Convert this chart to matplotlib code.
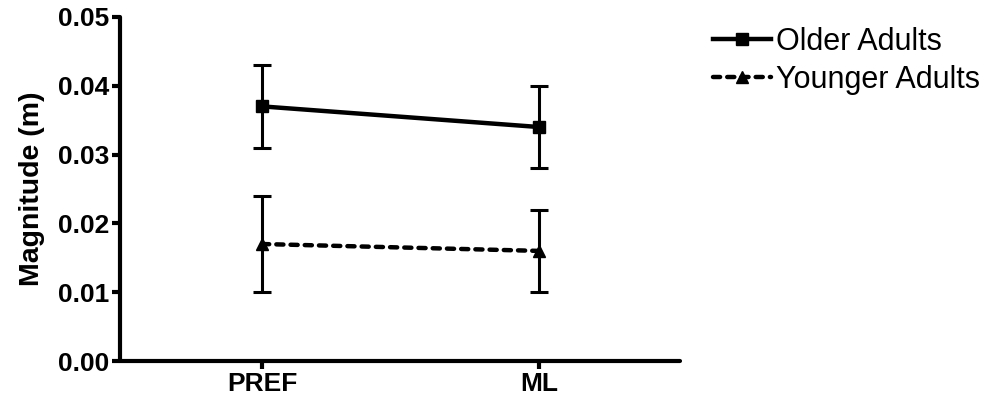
import matplotlib
matplotlib.use("Agg")
import matplotlib.pyplot as plt
from matplotlib.lines import Line2D

plt.rcParams['font.family'] = ['Liberation Sans', 'DejaVu Sans']

categories = ["PREF", "ML"]
older_mean = [0.037, 0.034]
older_err = [0.006, 0.006]
younger_mean = [0.017, 0.016]
younger_err = [0.007, 0.006]
yticks = [0.00, 0.01, 0.02, 0.03, 0.04, 0.05]

fig = plt.figure(figsize=(9.87, 4.03), dpi=100)
ax = fig.add_axes([0.1216, 0.1042, 0.5674, 0.8538])

x = list(range(len(categories)))
dash = (0, (1.6, 1.6))

ax.errorbar(x, older_mean, yerr=older_err, color='black', lw=3.2,
            marker='s', markersize=9, elinewidth=2.2, capsize=6.5, capthick=2.2)
ax.errorbar(x, younger_mean, yerr=younger_err, color='black', lw=3.2,
            ls=dash, dash_capstyle='round',
            marker='^', markersize=9, elinewidth=2.2, capsize=6.5, capthick=2.2)

ax.set_xlim(-0.513, 1.509)
ax.set_ylim(0, 0.05)
ax.set_xticks(x)
ax.set_xticklabels(categories, fontsize=19, fontweight='bold')
ax.set_yticks(yticks)
ax.set_yticklabels([f"{v:.2f}" for v in yticks], fontsize=19, fontweight='bold')
ax.set_ylabel("Magnitude (m)", fontsize=20.5, fontweight='bold', labelpad=9)

for side in ('top', 'right'):
    ax.spines[side].set_visible(False)
for side in ('left', 'bottom'):
    ax.spines[side].set_linewidth(3)
    ax.spines[side].set_capstyle('round')
ax.tick_params(axis='both', width=3, length=6, direction='out', pad=2)

handles = [
    Line2D([], [], color='black', lw=3.2, marker='s', markersize=8),
    Line2D([], [], color='black', lw=3.2, ls=dash, dash_capstyle='round',
           marker='^', markersize=8),
]
fig.legend(handles, ["Older Adults", "Younger Adults"], loc='upper left',
           bbox_to_anchor=(713 / 987, 1 - 27 / 403), frameon=False, fontsize=22,
           borderpad=0, borderaxespad=0,
           handlelength=1.9, handletextpad=0.15, labelspacing=0.25)

fig.savefig("out.png", dpi=100)
